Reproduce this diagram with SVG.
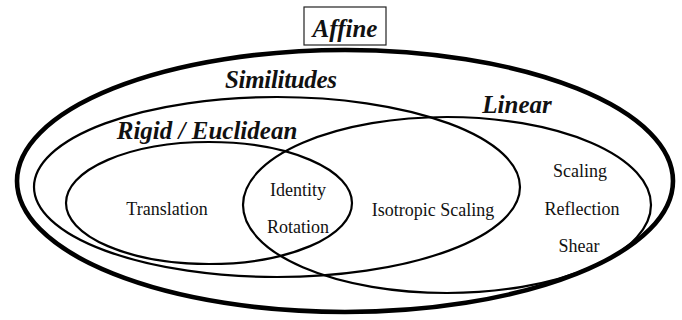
<svg xmlns="http://www.w3.org/2000/svg" width="682" height="320" viewBox="0 0 682 320">
  <style>
    .set { fill: none; stroke: #000; stroke-width: 2.2; }
    .outer { fill: none; stroke: #000; stroke-width: 4.6; }
    .head { font-family: "Liberation Serif", "Times New Roman", serif; font-size: 25px; font-weight: bold; font-style: italic; fill: #111; text-anchor: middle; }
    .item { font-family: "Liberation Serif", "Times New Roman", serif; font-size: 18px; fill: #111; text-anchor: middle; }
  </style>
  <rect width="682" height="320" fill="#fff"/>
  <g id="affine">
    <ellipse class="outer" cx="345" cy="181" rx="328" ry="131"/>
    <rect x="304" y="7" width="82" height="38" fill="#fff" stroke="#222" stroke-width="1.2"/>
    <text class="head" x="345" y="37">Affine</text>
  </g>
  <g id="similitudes">
    <ellipse class="set" cx="277" cy="187" rx="243" ry="90"/>
    <text class="head" x="281" y="88" textLength="112" lengthAdjust="spacing">Similitudes</text>
  </g>
  <g id="rigid">
    <ellipse class="set" cx="209" cy="203" rx="143" ry="61"/>
    <text class="head" x="207" y="139">Rigid / Euclidean</text>
    <text class="item" x="167" y="215">Translation</text>
  </g>
  <g id="linear">
    <ellipse class="set" cx="447" cy="205" rx="204" ry="88"/>
    <text class="head" x="517" y="113">Linear</text>
    <text class="item" x="433" y="216">Isotropic Scaling</text>
    <text class="item" x="580" y="177">Scaling</text>
    <text class="item" x="582" y="215">Reflection</text>
    <text class="item" x="579" y="252">Shear</text>
  </g>
  <g id="rigid-linear">
    <text class="item" x="298" y="196">Identity</text>
    <text class="item" x="298" y="233">Rotation</text>
  </g>
  <g id="connectors"/>
</svg>
